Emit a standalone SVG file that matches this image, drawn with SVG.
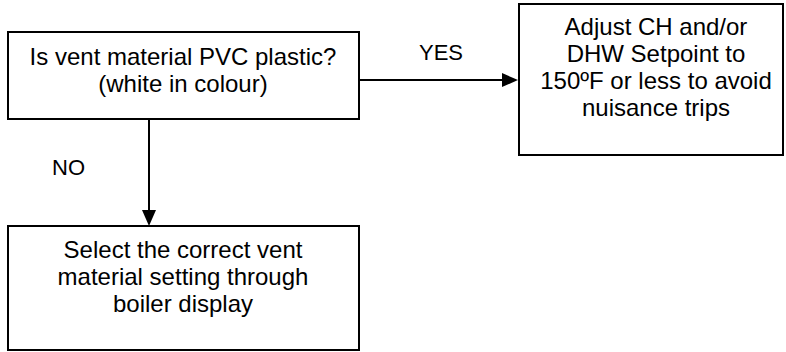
<svg xmlns="http://www.w3.org/2000/svg" width="786" height="352" viewBox="0 0 786 352">
<defs>
<style>
.box{fill:#fff;stroke:#000;stroke-width:2}
.t{font-family:"Liberation Sans",Arial,sans-serif;font-size:24px;fill:#000;text-anchor:middle}
.l{font-family:"Liberation Sans",Arial,sans-serif;font-size:22px;fill:#000}
.c{stroke:#000;stroke-width:2;fill:none}
</style>
</defs>
<rect width="786" height="352" fill="#fff"/>
<g id="connectors">
<line class="c" x1="359" y1="80" x2="504" y2="80"/>
<polygon points="502,73 518,80 502,87" fill="#000"/>
<line class="c" x1="149" y1="119" x2="149" y2="212"/>
<polygon points="142,210 149,226 156,210" fill="#000"/>
<text class="l" x="419" y="60">YES</text>
<text class="l" x="52" y="175">NO</text>
</g>
<g id="q">
<rect class="box" x="8" y="32" width="351" height="87"/>
<text class="t" x="183" y="65">Is vent material PVC plastic?</text>
<text class="t" x="183" y="92">(white in colour)</text>
</g>
<g id="yes">
<rect class="box" x="519" y="4" width="264" height="151"/>
<text class="t" x="656" y="35">Adjust CH and/or</text>
<text class="t" x="656" y="62">DHW Setpoint to</text>
<text class="t" x="656" y="89">150ºF or less to avoid</text>
<text class="t" x="656" y="116">nuisance trips</text>
</g>
<g id="no">
<rect class="box" x="8" y="226" width="351" height="124"/>
<text class="t" x="183" y="258">Select the correct vent</text>
<text class="t" x="183" y="285">material setting through</text>
<text class="t" x="183" y="312">boiler display</text>
</g>
</svg>
